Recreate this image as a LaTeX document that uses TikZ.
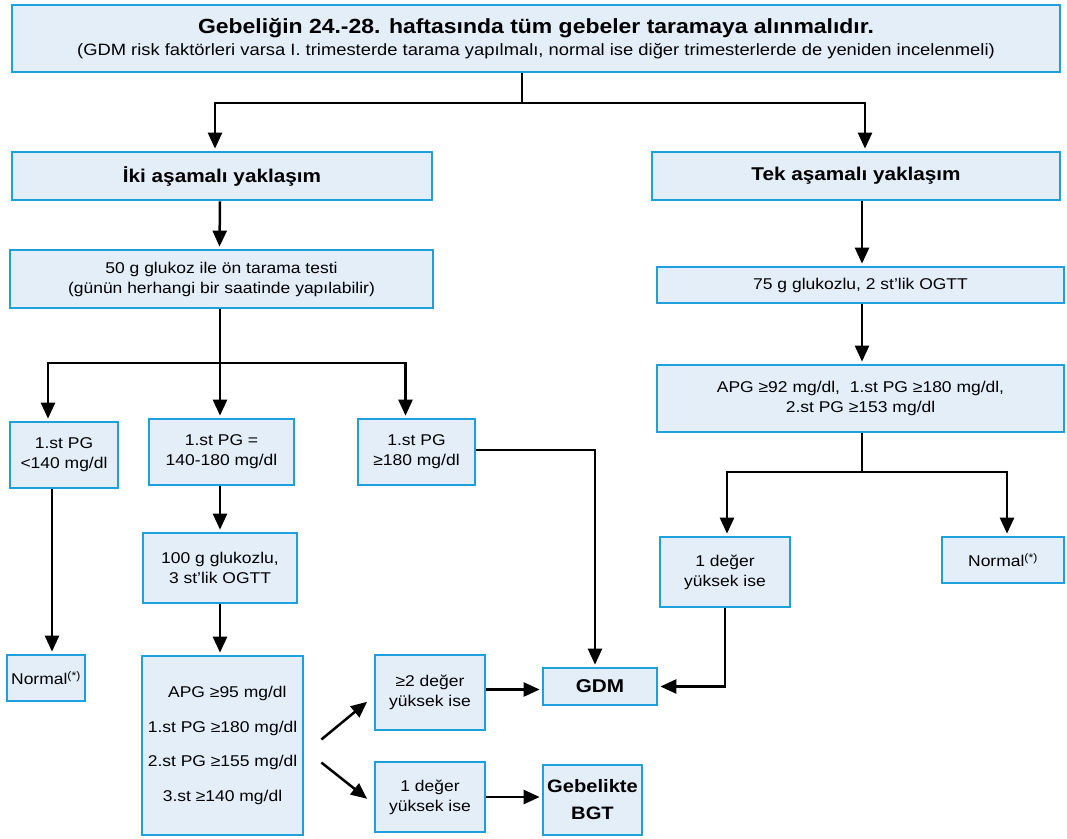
\documentclass[tikz,border=0pt]{standalone}
\usepackage{fontspec}
\setmainfont[FakeStretch=1.12]{Liberation Sans}
\usetikzlibrary{arrows.meta}
\definecolor{boxfill}{HTML}{E3EEF9}
\definecolor{boxline}{HTML}{1EA0DC}
\tikzset{
  box/.style={draw=boxline, line width=2.7pt, fill=boxfill, inner sep=1pt, align=center, font=\fontsize{15.6}{20}\selectfont},
  head/.style={font=\fontsize{18.5}{22}\selectfont\bfseries},
  conn/.style={line width=2.5pt, draw=black},
  arr/.style={conn, shorten >=2pt, -{Triangle[length=16pt,width=14pt]}},
}
\begin{document}
\begin{tikzpicture}[x=1pt,y=-1pt]
\useasboundingbox (0,0) rectangle (1067,838);
% boxes
\node[box, minimum width=1048, minimum height=67] (top) at (536,38.5)
  {{\fontsize{20.5}{24}\selectfont\bfseries Gebeliğin 24.-28. haftasında tüm gebeler taramaya alınmalıdır.}\\[2pt]
   {\fontsize{16.4}{18}\selectfont (GDM risk faktörleri varsa I. trimesterde tarama yapılmalı, normal ise diğer trimesterlerde de yeniden incelenmeli)}};
\node[box, head, minimum width=420, minimum height=48] (iki) at (222,176) {İki aşamalı yaklaşım};
\node[box, head, minimum width=408, minimum height=48] (tek) at (856,176) {Tek aşamalı yaklaşım};
\node[box, minimum width=423, minimum height=58] (g50) at (221.5,279) {50 g glukoz ile ön tarama testi\\(günün herhangi bir saatinde yapılabilir)};
\node[box, minimum width=407, minimum height=36] (g75) at (860.5,285) {75 g glukozlu, 2 st'lik OGTT};
\node[box, minimum width=407, minimum height=67] (apgR) at (860.5,398.5) {APG ≥92 mg/dl,\ \ 1.st PG ≥180 mg/dl,\\2.st PG ≥153 mg/dl};
\node[box, minimum width=108, minimum height=66] (b1) at (64,455) {1.st PG\\<140 mg/dl};
\node[box, minimum width=145, minimum height=66] (b2) at (221.5,452) {1.st PG =\\140-180 mg/dl};
\node[box, minimum width=117, minimum height=66] (b3) at (416.5,452) {1.st PG\\≥180 mg/dl};
\node[box, minimum width=154, minimum height=70] (g100) at (220,568) {100 g glukozlu,\\3 st'lik OGTT};
\node[box, minimum width=78, minimum height=46] (normL) at (46,678) {Normal\textsuperscript{(*)}};
\node[box, minimum width=161, minimum height=179, font=\fontsize{15.6}{34.5}\selectfont] (apgL) at (222.5,745.5) {\ \ APG ≥95 mg/dl\\1.st PG ≥180 mg/dl\\2.st PG ≥155 mg/dl\\3.st ≥140 mg/dl};
\node[box, minimum width=110, minimum height=75] (two) at (430,692.5) {≥2 değer\\yüksek ise};
\node[box, minimum width=110, minimum height=70] (oneL) at (430,797) {1 değer\\yüksek ise};
\node[box, head, minimum width=114, minimum height=37] (gdm) at (600,686.5) {GDM};
\node[box, head, minimum width=99, minimum height=70, font=\fontsize{18}{27}\selectfont\bfseries] (bgt) at (592.5,800) {Gebelikte\\BGT};
\node[box, minimum width=130, minimum height=70] (oneR) at (725,572) {1 değer\\yüksek ise};
\node[box, minimum width=122, minimum height=46] (normR) at (1003,560) {Normal\textsuperscript{(*)}};
% split points
\coordinate (s1) at (522,103);
\coordinate (s2) at (220,363);
\coordinate (s3) at (862,472);
% connectors
\draw[conn] (top.south -| s1) -- (s1);
\draw[arr] (s1) -| ([xshift=-7pt]iki.north);
\draw[arr] (s1) -| ([xshift=9pt]tek.north);
\draw[arr] ([xshift=-2pt]iki.south) -- ([xshift=-2pt]g50.north);
\draw[arr] ([xshift=6pt]tek.south) -- (g75.north -| s3);
\draw[arr] (g75.south -| s3) -- (apgR.north -| s3);
\draw[conn] (apgR.south -| s3) -- (s3);
\draw[arr] (s3) -| ([xshift=2pt]oneR.north);
\draw[arr] (s3) -| ([xshift=4pt]normR.north);
\draw[conn] (g50.south -| s2) -- (s2);
\draw[arr] (s2) -| ([xshift=-16pt]b1.north);
\draw[arr] (s2) -- (b2.north -| s2);
\draw[arr] (s2) -| ([xshift=-11pt]b3.north);
\draw[arr] ([xshift=-12pt]b1.south) -- ([xshift=-12pt]b1.south |- normL.north);
\draw[arr] (b2.south -| s2) -- (g100.north -| s2);
\draw[arr] (g100.south -| s2) -- (apgL.north -| s2);
\draw[arr] ([yshift=2pt]b3.east) -| ([xshift=-5pt]gdm.north);
\draw[arr] ([xshift=17pt,yshift=6pt]apgL.east) -- ([xshift=-5pt,yshift=-8pt]two.west);
\draw[arr] ([xshift=17pt,yshift=-17pt]apgL.east) -- ([xshift=-5pt,yshift=-3pt]oneL.west);
\draw[arr] ([yshift=3pt]two.east) -- ([yshift=3pt]two.east -| gdm.west);
\draw[arr] (oneL.east) -- (oneL.east -| bgt.west);
\draw[arr] (oneR.south) |- (gdm.east);
\end{tikzpicture}
\end{document}
